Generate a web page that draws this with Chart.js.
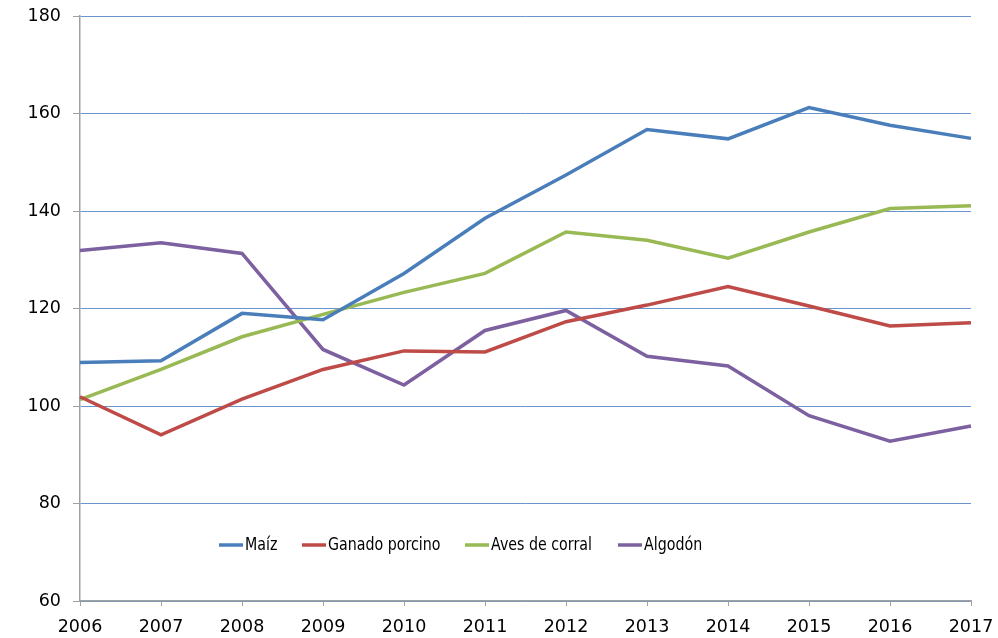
<!DOCTYPE html>
<html>
<head>
<meta charset="utf-8">
<script src="https://cdn.jsdelivr.net/npm/chart.js@4/dist/chart.umd.min.js"></script>
<style>
  html, body { margin: 0; padding: 0; background: #fff; }
  #wrap { width: 998px; height: 638px; }
</style>
</head>
<body>
<div id="wrap"><canvas id="LineChart"></canvas></div>
<script>
const years = ['2006','2007','2008','2009','2010','2011','2012','2013','2014','2015','2016','2017'];
const maiz = [108.9, 109.3, 119.0, 117.7, 127.2, 138.5, 147.4, 156.7, 154.8, 161.2, 157.6, 154.9];
const porcino = [101.9, 94.1, 101.4, 107.5, 111.3, 111.1, 117.3, 120.7, 124.5, 120.5, 116.4, 117.1];
const aves = [101.3, 107.5, 114.2, 118.8, 123.3, 127.2, 135.7, 134.0, 130.3, 135.7, 140.5, 141.1];
const algodon = [131.9, 133.5, 131.3, 111.6, 104.3, 115.5, 119.6, 110.2, 108.2, 98.0, 92.8, 95.9];
const yTicks = [60, 80, 100, 120, 140, 160, 180];

const font = "'DejaVu Sans', Verdana, sans-serif";

// legend drawn inside the plot, as in the original (narrow text)
const innerLegend = {
  id: 'innerLegend',
  afterDatasetsDraw(chart) {
    const ctx = chart.ctx;
    const xs = [219, 302, 465, 618];
    const y = 545;
    const sx = 0.79;
    ctx.save();
    ctx.font = '18px ' + font;
    ctx.textBaseline = 'middle';
    chart.data.datasets.forEach(function(ds, i) {
      ctx.strokeStyle = ds.borderColor;
      ctx.lineWidth = 3.5;
      ctx.beginPath();
      ctx.moveTo(xs[i], y);
      ctx.lineTo(xs[i] + 24, y);
      ctx.stroke();
      ctx.fillStyle = '#000';
      ctx.save();
      ctx.translate(xs[i] + 26, y);
      ctx.scale(sx, 1);
      ctx.fillText(ds.label, 0, 0);
      ctx.restore();
    });
    ctx.restore();
  }
};

function line(label, values, color) {
  return {
    label: label,
    data: values,
    borderColor: color,
    backgroundColor: color,
    borderWidth: 3.5,
    pointRadius: 0,
    tension: 0,
    fill: false
  };
}

const data = {
  labels: years,
  datasets: [
    line('Maíz', maiz, '#4A7EBB'),
    line('Ganado porcino', porcino, '#BE4B48'),
    line('Aves de corral', aves, '#98B954'),
    line('Algodón', algodon, '#7D60A0')
  ]
};

const config = {
  type: 'line',
  data: data,
  options: {
    responsive: true,
    maintainAspectRatio: false,
    animation: false,
    layout: { padding: { top: 16, right: 27, left: 0, bottom: 0 } },
    plugins: {
      legend: { display: false },
      tooltip: { enabled: false }
    },
    scales: {
      x: {
        offset: false,
        afterFit: function(s) {
          s.height = 37;
          s.paddingLeft = 0;
          s.paddingRight = 0;
        },
        grid: {
          drawOnChartArea: false,
          drawTicks: true,
          tickLength: 5,
          tickColor: '#A0A0A0'
        },
        border: { color: '#A0A0A0', width: 1.5 },
        ticks: {
          color: '#000',
          font: { family: font, size: 17.5 },
          padding: 11,
          maxRotation: 0,
          autoSkip: false
        }
      },
      y: {
        min: 60,
        max: 180,
        afterFit: function(s) {
          s.width = 80;
          s.paddingTop = 0;
          s.paddingBottom = 0;
        },
        afterBuildTicks: function(s) { s.ticks = yTicks.map(function(v) { return { value: v }; }); },
        grid: {
          color: '#6A95CC',
          lineWidth: 1,
          drawTicks: true,
          tickLength: 7,
          tickColor: '#A0A0A0'
        },
        border: { color: '#A0A0A0', width: 1.5 },
        ticks: {
          color: '#000',
          font: { family: font, size: 17.5 },
          padding: 12
        }
      }
    }
  },
  plugins: [innerLegend]
};

const myLineChart = new Chart(document.getElementById('LineChart'), config);
</script>
</body>
</html>
